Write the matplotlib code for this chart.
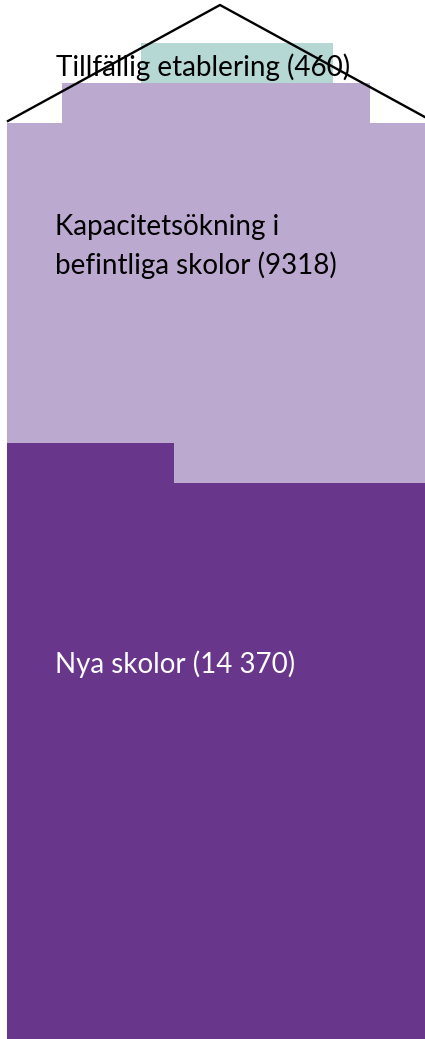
import matplotlib
matplotlib.use('Agg')
from matplotlib import pyplot as plt
from matplotlib.patches import Rectangle

# Platser per kategori
labels = ['Nya skolor (14 370)',
          'Kapacitetsökning i',
          'befintliga skolor (9318)',
          'Tillfällig etablering (460)']
values = [14370, 9318, 460]
colors = ['#68368a', '#bba9d0', '#b5d8d4']

ROW = 998          # platser per hel rad
FULL_ROWS = 23     # rader med full bredd innan taket smalnar av


def buildRects(values):
    # fyll husets rader nerifrån och upp, vänster till höger
    rects = [[] for _ in values]
    row, used = 0, 0.0
    for i, v in enumerate(values[:2]):
        left = v
        while left > 0:
            if row < FULL_ROWS:
                take = min(left, ROW - used)
                rects[i].append((used, row, take))
                used += take
                left -= take
                if used >= ROW - 1e-9:
                    row, used = row + 1, 0.0
            else:
                # smalare rad under taket, centrerad
                rects[i].append((ROW / 2 - left / 2, row, left))
                left = 0
                row, used = row + 1, 0.0
    # tillfällig etablering överst
    rects[2].append((0.55 * ROW - values[2] / 2, row, values[2]))
    return rects


rects = buildRects(values)

fig = plt.figure(figsize=(4.25, 10.39), dpi=100)
ax = fig.add_axes([0, 0, 1, 1])
pxX = ROW / 418
ax.set_xlim(-7 * pxX, 418 * pxX)
ax.set_ylim(0.1, 1043 / 40)
ax.axis('off')

for parts, color in zip(rects, colors):
    for x0, y0, w in parts:
        ax.add_patch(Rectangle((x0, y0), w, 1, facecolor=color,
                               edgecolor='none'))

# taket
roofX = [0.0024 * ROW, 0.5096 * ROW, 1.017 * ROW]
roofY = [23.05, 25.95, 23.05]
ax.plot(roofX, roofY, color='black', lw=1.7, clip_on=False, zorder=5)

font = 'Lato'
fs = 20
ax.text(49 * pxX, 24.175, labels[3], fontsize=fs, family=font,
        color='black', va='baseline', zorder=4)
ax.text(48 * pxX, 20.2, labels[1], fontsize=fs, family=font,
        color='black', va='baseline')
ax.text(48 * pxX, 19.225, labels[2], fontsize=fs, family=font,
        color='black', va='baseline')
ax.text(48 * pxX, 9.25, labels[0], fontsize=fs, family=font,
        color='white', va='baseline')

fig.savefig('out.png', dpi=100)
